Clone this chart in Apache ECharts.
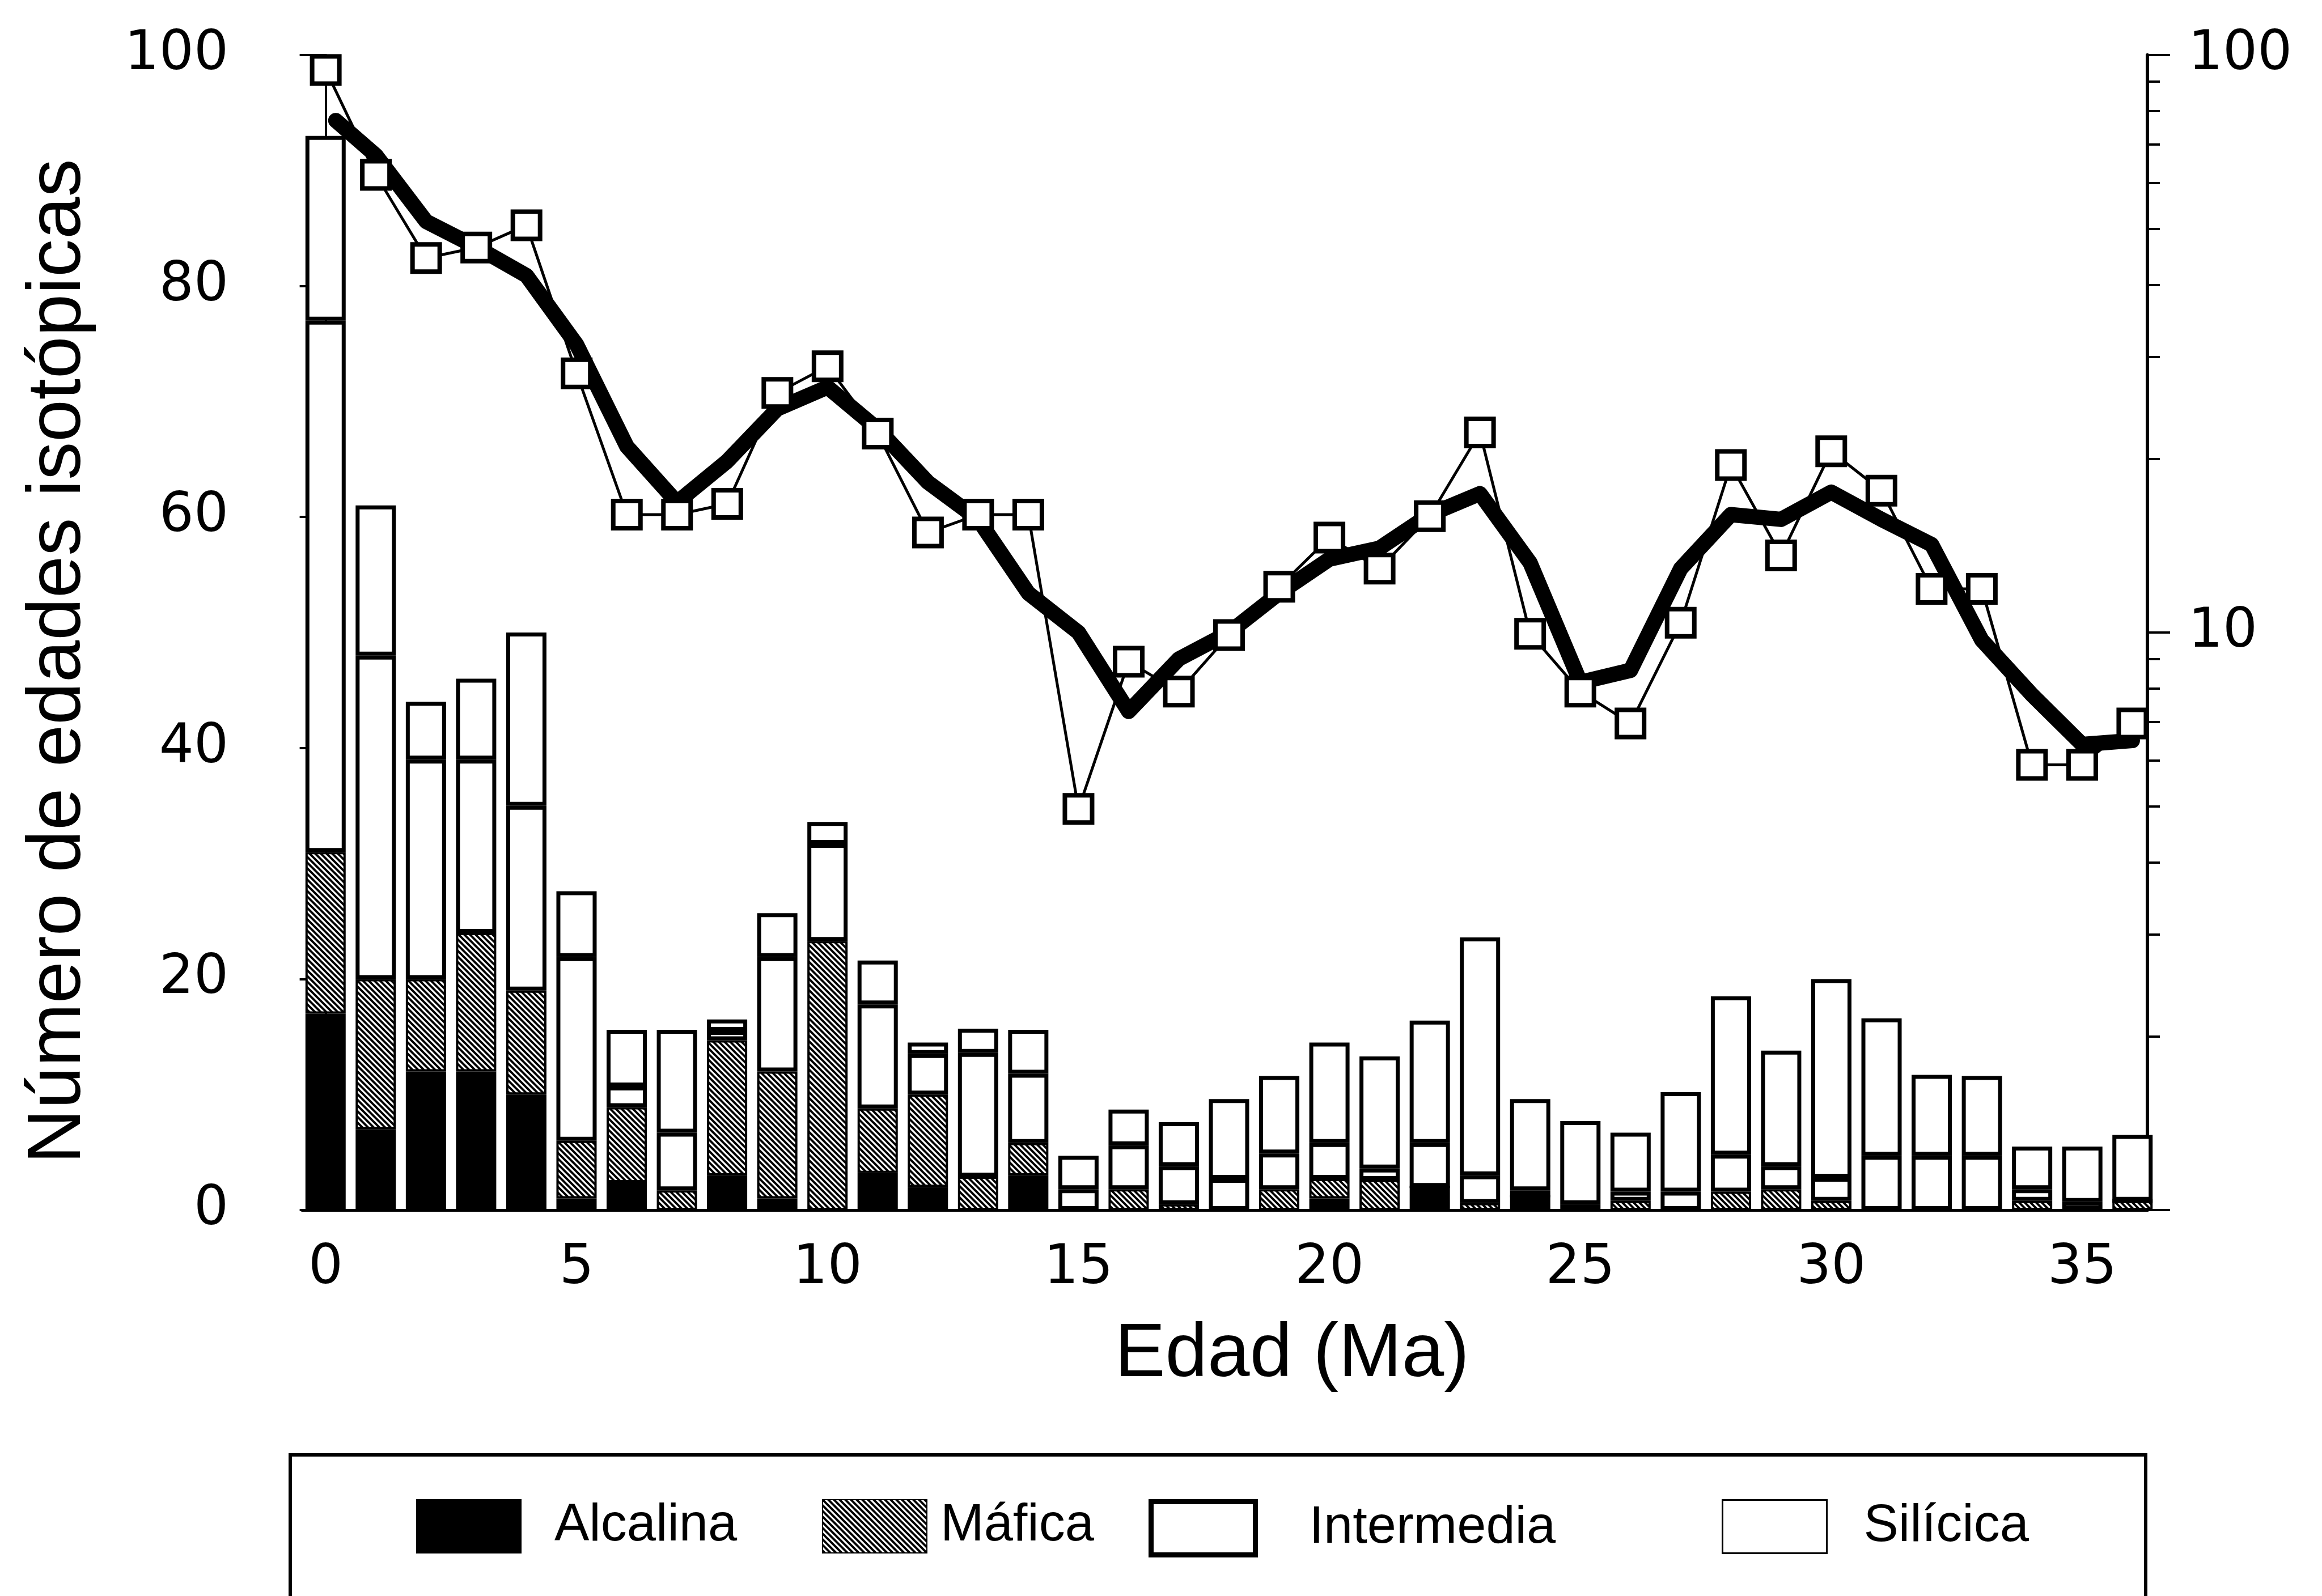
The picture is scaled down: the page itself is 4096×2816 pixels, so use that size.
<!DOCTYPE html>
<html><head><meta charset="utf-8">
<script src="https://cdn.jsdelivr.net/npm/echarts@6/dist/echarts.min.js"></script>
<style>html,body{margin:0;padding:0;background:#fff}#c{width:4096px;height:2816px}</style>
</head><body><div id="c"></div>
<script>
// ---- data ----
const ages = [0,1,2,3,4,5,6,7,8,9,10,11,12,13,14,15,16,17,18,19,20,21,22,23,24,25,26,27,28,29,30,31,32,33,34,35,36];
const alcalina   = [17,7,12,12,10,1,2.4,0,3,1,0,3.2,2,0,3,0,0,0,0,0,1,0,2,0,1.2,0,0,0,0,0,0,0,0,0,0,0,0];
const mafica     = [14,13,8,12,9,5,6.5,1.7,11.7,11,23.3,5.6,8,2.9,2.8,0,1.8,0.5,0,1.8,1.7,2.6,0,0.6,0,0,0.8,0,1.6,1.8,0.8,0,0,0,0.8,0,0.8];
const intermedia = [46,28,19,15,16,15.9,1.8,5,0.8,9.9,8.4,9,3.5,10.7,6,1.8,3.8,3.3,2.7,3.1,3.1,1,3.8,2.4,0.5,0.5,0.8,1.6,3.2,2,2,4.7,4.7,4.7,1,0.7,0];
const silicica   = [16,13,5,7,15,5.7,4.9,8.9,1,3.8,1.9,3.8,1,2.1,3.8,2.9,3.1,3.8,6.9,6.7,8.7,9.7,10.6,20.6,7.9,7.2,5.1,8.6,13.7,10,17.2,11.9,7,6.9,3.7,4.8,5.7];
const totalAges  = [94.2,62,44.5,46.4,50.7,28.1,16,16,16.7,26,28.9,22.1,14.9,16,16,4.95,8.9,7.9,9.9,12,14.6,12.9,15.9,22.2,9.95,7.9,6.96,10.4,19.5,13.6,20.6,17.6,11.9,11.9,5.9,5.9,6.96];
const smoothX    = [0.2,1,2,3,4,5,6,7,8,9,10,11,12,13,14,15,16,17,18,19,20,21,22,23,24,25,26,27,28,29,30,31,32,33,34,35,36];
const smoothY    = [77,67,51.5,46.5,41.5,31.5,21,16.8,19.8,24.4,26.6,22.5,18.2,15.7,11.7,10,7.3,9,10,11.7,13.4,14,16,17.4,13.2,8.2,8.6,12.9,16,15.7,17.5,15.7,14.2,9.7,7.8,6.4,6.5];
const xTickLabels = [0,5,10,15,20,25,30,35];
const logMinorTicks = [2,3,4,5,6,7,8,9,20,30,40,50,60,70,80,90];
const seriesNames = ['Alcalina','Máfica','Intermedia','Silícica'];
const xTitle = 'Edad (Ma)';
const yTitle = 'Número de edades isotópicas';

// hatch pattern for Máfica
const pc = document.createElement('canvas');
pc.width = 10; pc.height = 10;
const g = pc.getContext('2d');
g.fillStyle = '#fff'; g.fillRect(0,0,10,10);
g.strokeStyle = '#000'; g.lineWidth = 4;
g.beginPath();
g.moveTo(-2,-2); g.lineTo(12,12);
g.moveTo(-7,3); g.lineTo(7,17);
g.moveTo(3,-7); g.lineTo(17,7);
g.stroke();
const hatch = {image: pc, repeat: 'repeat'};

const FONT = 'Liberation Sans, Arial, Helvetica, sans-serif';
const TICKFONT = 'DejaVu Sans, sans-serif';
const pairs = arr => ages.map((a, i) => [a, arr[i]]);

// grid 0: axes and lines (value x axis); grid 1: bars on a category axis whose bands line up with grid 0
const barCommon = {type: 'bar', stack: 'total', barWidth: 71, xAxisIndex: 1, yAxisIndex: 3};

const chart = echarts.init(document.getElementById('c'), null, {renderer: 'canvas'});
chart.setOption({
  animation: false,
  backgroundColor: '#fff',
  grid: [
    {left: 533, right: 308, top: 97, bottom: 681},
    {left: 530, right: 290, top: 97, bottom: 681}
  ],
  xAxis: [{
    gridIndex: 0, type: 'value', min: -0.47, max: 36.3,
    axisLine: {show: true, onZero: false, lineStyle: {color: '#000', width: 5}},
    axisTick: {show: false},
    splitLine: {show: false},
    axisLabel: {customValues: xTickLabels, color: '#000', fontSize: 96, fontFamily: TICKFONT, margin: 56}
  }, {
    gridIndex: 1, type: 'category', data: ages, boundaryGap: true, show: false
  }],
  yAxis: [{
    gridIndex: 0, type: 'value', min: 0, max: 100, interval: 20, position: 'left',
    axisLine: {show: true, lineStyle: {color: '#000', width: 4}},
    axisTick: {show: true, length: 46, lineStyle: {color: '#000', width: 4}},
    minorTick: {show: true, splitNumber: 2, length: 21, lineStyle: {color: '#000', width: 4}},
    splitLine: {show: false},
    axisLabel: {color: '#000', fontSize: 96, fontFamily: TICKFONT, margin: 130}
  }, {
    gridIndex: 0, type: 'log', logBase: 10, min: 1, max: 100, position: 'right',
    axisLine: {show: true, lineStyle: {color: '#000', width: 6}},
    axisTick: {show: true, length: 40, lineStyle: {color: '#000', width: 4}},
    splitLine: {show: false},
    axisLabel: {color: '#000', fontSize: 96, fontFamily: TICKFONT, margin: 72,
      formatter: v => (v === 1 ? '' : String(v))}
  }, {
    gridIndex: 0, type: 'log', logBase: 10, min: 1, max: 100, position: 'right', offset: 0,
    axisLine: {show: false},
    axisTick: {show: true, length: 22, customValues: logMinorTicks, lineStyle: {color: '#000', width: 4}},
    splitLine: {show: false},
    axisLabel: {show: false}
  }, {
    gridIndex: 1, type: 'value', min: 0, max: 100, show: false, splitLine: {show: false}
  }],
  legend: [
    {data: [seriesNames[0]], left: 729, top: 2640},
    {data: [seriesNames[1]], left: 1445, top: 2640},
    {data: [{name: seriesNames[2], itemStyle: {borderWidth: 9, borderColor: '#000'}}], left: 2021, top: 2640},
    {data: [{name: seriesNames[3], itemStyle: {borderWidth: 3, borderColor: '#000'}}], left: 3032, top: 2640}
  ].map((l, i) => Object.assign({
    selectedMode: false, icon: 'rect', itemWidth: 184, itemHeight: 94,
    textStyle: {color: '#000', fontSize: 92, fontFamily: FONT,
      padding: [0, 0, 0, [54, 19, 90, 60][i]]}
  }, l)),
  graphic: [
    {type: 'rect', shape: {x: 512, y: 2567, width: 3273, height: 400},
     style: {fill: 'none', stroke: '#000', lineWidth: 6}, silent: true},
    {type: 'text', x: 2279, y: 2391,
     style: {text: xTitle, font: '134px ' + FONT, fill: '#000', textAlign: 'center', textVerticalAlign: 'middle'}},
    {type: 'text', x: 104, y: 1167, rotation: Math.PI / 2,
     style: {text: yTitle, font: '134px ' + FONT, fill: '#000', textAlign: 'center', textVerticalAlign: 'middle'}}
  ],
  series: [
    Object.assign({}, barCommon, {name: seriesNames[0], data: alcalina,
      itemStyle: {color: '#000', borderColor: '#000', borderWidth: 4}}),
    Object.assign({}, barCommon, {name: seriesNames[1], data: mafica,
      itemStyle: {color: hatch, borderColor: '#000', borderWidth: 4}}),
    Object.assign({}, barCommon, {name: seriesNames[2], data: intermedia,
      itemStyle: {color: '#fff', borderColor: '#000', borderWidth: 7}}),
    Object.assign({}, barCommon, {name: seriesNames[3], data: silicica,
      itemStyle: {color: '#fff', borderColor: '#000', borderWidth: 7}}),
    {type: 'line', name: 'suavizada', xAxisIndex: 0, yAxisIndex: 1, z: 5,
     data: smoothX.map((x, i) => [x, smoothY[i]]), showSymbol: false, symbol: 'none',
     lineStyle: {color: '#000', width: 27, join: 'round', cap: 'round'}},
    {type: 'line', name: 'total', xAxisIndex: 0, yAxisIndex: 1, z: 6,
     data: pairs(totalAges), symbol: 'rect', symbolSize: 48,
     lineStyle: {color: '#000', width: 5},
     itemStyle: {color: '#fff', borderColor: '#000', borderWidth: 8}}
  ]
});
</script>
</body></html>
